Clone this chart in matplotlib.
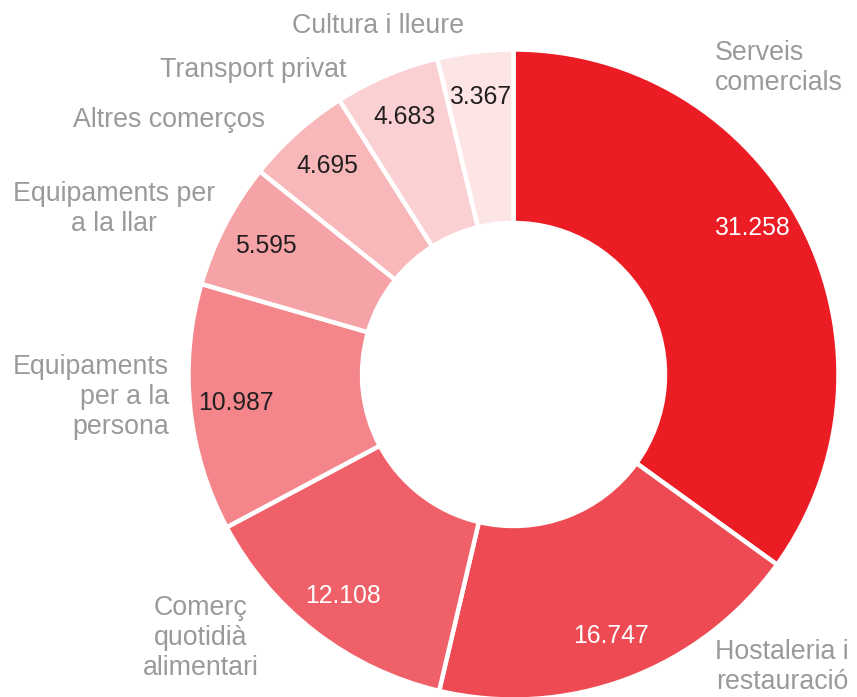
import numpy as np
import matplotlib
matplotlib.use("Agg")
import matplotlib.pyplot as plt

categories = ["Serveis\ncomercials", "Hostaleria i\nrestauració", "Comerç\nquotidià\nalimentari",
              "Equipaments\nper a la\npersona", "Equipaments per\na la llar", "Altres comerços",
              "Transport privat", "Cultura i lleure"]
values = [31258, 16747, 12108, 10987, 5595, 4695, 4683, 3367]
colors = ["#EC1C24", "#EE4A53", "#F06068", "#F4868B", "#F5A3A6", "#F8B8BA", "#FAD0D2", "#FDE5E6"]
value_text_colors = ["white", "white", "white", "#231F20", "#231F20", "#231F20", "#231F20", "#231F20"]

W, H = 857, 697
fig = plt.figure(figsize=(W / 100, H / 100), dpi=100)
ax = fig.add_axes([0, 0, 1, 1])

cx, cy = 513.5, H - 374.5
R = 325
ring = 1 - 151.5 / 325

wedges, _ = ax.pie(values, colors=colors, startangle=90, counterclock=False,
                   radius=R, center=(cx, cy),
                   wedgeprops=dict(width=R * ring, edgecolor="white", linewidth=3.2))
ax.set_xlim(0, W)
ax.set_ylim(0, H)
ax.set_aspect("equal")
ax.axis("off")

font = "Liberation Sans"

def fmt(v):
    return f"{v:,}".replace(",", ".")

for i, (w, v, tc) in enumerate(zip(wedges, values, value_text_colors)):
    mid = (w.theta1 + w.theta2) / 2
    if i == 0:
        mid += 4.5
    mid = np.deg2rad(mid)
    r = 0.86 * R
    ax.text(cx + r * np.cos(mid), cy + r * np.sin(mid), fmt(v), ha="center", va="center",
            fontsize=17.8, color=tc, family=font)

# category label placement (pixel coords from top-left)
label_pos = [
    (715, 68, "left", "left"),
    (782, 667, "center", "center"),
    (201, 638, "center", "center"),
    (169, 397, "right", "right"),
    (114, 209, "center", "center"),
    (169, 120, "center", "center"),
    (253, 70, "center", "center"),
    (378, 26, "center", "center"),
]
for cat, (x, y, ha, ma) in zip(categories, label_pos):
    ax.text(x, H - y, cat, ha=ha, va="center", multialignment=ma, fontsize=19.3,
            color="#9A9A9A", family=font, linespacing=1.19)

fig.savefig("out.png", dpi=100, facecolor="white")
